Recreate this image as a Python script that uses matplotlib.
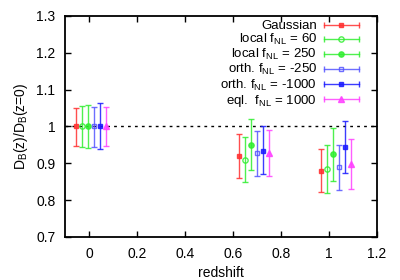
import matplotlib.pyplot as plt
import numpy as np
from matplotlib.legend_handler import HandlerBase
from matplotlib.lines import Line2D

plt.rcParams['font.family'] = ['Liberation Sans', 'DejaVu Sans']
plt.rcParams['mathtext.fontset'] = 'custom'
plt.rcParams['mathtext.rm'] = 'Liberation Sans'

# data
redshifts = np.array([0.0, 0.68, 1.02])
offsets = [-0.055, -0.03, -0.005, 0.02, 0.045, 0.07]
labels = ["Gaussian",
          r"local f$_\mathrm{NL}$ = 60",
          r"local f$_\mathrm{NL}$ = 250",
          r"orth. f$_\mathrm{NL}$ = -250",
          r"orth. f$_\mathrm{NL}$ = -1000",
          r"eql.  f$_\mathrm{NL}$ = 1000"]
ratio = [
    [1.0, 0.920, 0.880],
    [1.0, 0.909, 0.884],
    [1.0, 0.950, 0.924],
    [1.0, 0.927, 0.889],
    [1.0, 0.934, 0.944],
    [1.0, 0.929, 0.899],
]
upper = [
    [1.051, 0.979, 0.940],
    [1.055, 0.970, 0.949],
    [1.057, 1.019, 0.996],
    [1.053, 0.988, 0.950],
    [1.063, 1.000, 1.015],
    [1.053, 0.991, 0.967],
]
lower = [
    [0.948, 0.859, 0.821],
    [0.945, 0.849, 0.819],
    [0.942, 0.881, 0.851],
    [0.943, 0.865, 0.827],
    [0.939, 0.870, 0.873],
    [0.948, 0.866, 0.830],
]

colors = ['#ff3030', '#30ee30', '#30ee30', '#5555ff', '#1a1aff', '#ff40ff']
markers = ['s', 'o', 'o', 's', 's', '^']
filled = [True, False, True, False, True, True]


class HorizontalErrorHandler(HandlerBase):
    """legend key like gnuplot: horizontal bar with caps and marker in the middle"""
    def create_artists(self, legend, orig_handle, xdescent, ydescent,
                       width, height, fontsize, trans):
        y = height / 2 - ydescent
        x0, x1 = -xdescent, width - xdescent
        c = orig_handle.get_color()
        bar = Line2D([x0, x1], [y, y], color=c, lw=1, alpha=0.85)
        caps = Line2D([x0, x1], [y, y], ls='none', marker='|', ms=4,
                      mew=1, color=c, alpha=0.85)
        mk = Line2D([(x0 + x1) / 2], [y], ls='none',
                    marker=orig_handle.get_marker(),
                    ms=orig_handle.get_markersize(),
                    mfc=orig_handle.get_markerfacecolor(),
                    mec=c, mew=1, alpha=0.85)
        for a in (bar, caps, mk):
            a.set_transform(trans)
        return [bar, caps, mk]


fig = plt.figure(figsize=(4, 2.8), dpi=100)
ax = fig.add_axes([0.1625, 0.1536, 0.78, 0.79])

ax.axhline(1.0, color='black', linestyle=(0, (2, 3)), linewidth=1, zorder=1)

handles = []
for i in range(len(labels)):
    y = np.array(ratio[i])
    yerr = [y - np.array(lower[i]), np.array(upper[i]) - y]
    ms = 3.4 if markers[i] == 's' else 3.8
    face = colors[i] if filled[i] else 'none'
    ax.errorbar(redshifts + offsets[i], y, yerr=yerr, fmt=markers[i],
                color=colors[i], ecolor=colors[i], elinewidth=1, capsize=2,
                capthick=1, markersize=ms, markerfacecolor=face,
                markeredgewidth=1, alpha=0.85, zorder=3)
    handles.append(Line2D([], [], color=colors[i], marker=markers[i],
                          markersize=ms, markerfacecolor=face))

ax.set_xlim(-0.1, 1.2)
ax.set_ylim(0.7, 1.3)
ax.set_xticks([0, 0.2, 0.4, 0.6, 0.8, 1, 1.2])
ax.set_xticklabels(["0", "0.2", "0.4", "0.6", "0.8", "1", "1.2"])
ax.set_yticks([0.7, 0.8, 0.9, 1.0, 1.1, 1.2, 1.3])
ax.set_yticklabels(["0.7", "0.8", "0.9", "1", "1.1", "1.2", "1.3"])
ax.tick_params(direction='in', top=True, right=True, length=4, width=1,
               labelsize=10, pad=7, colors='black')
ax.set_xlabel("redshift", fontsize=10)
ax.set_ylabel(r"D$_\mathrm{B}$(z)/D$_\mathrm{B}$(z=0)", fontsize=10)
for s in ax.spines.values():
    s.set_linewidth(1.3)

# legend
ax.legend(handles, labels, loc='upper right', frameon=False, markerfirst=False,
          fontsize=9.5, handlelength=2.7, handletextpad=0.5, labelspacing=0.0,
          borderaxespad=0.0, bbox_to_anchor=(0.96, 1.005),
          handler_map={Line2D: HorizontalErrorHandler()})

fig.savefig("out.png", dpi=100)
